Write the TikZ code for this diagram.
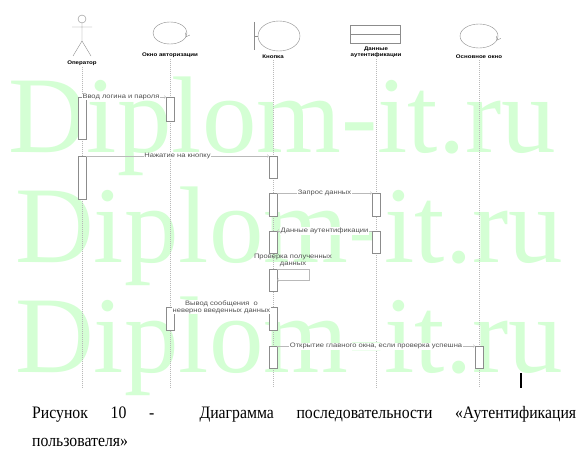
\documentclass[tikz,border=0pt]{standalone}
\usepackage{fontspec}
\setmainfont{Liberation Serif}
\newfontfamily\umlfont[FakeStretch=1.18]{Liberation Sans}
\newfontfamily\capfont[FakeStretch=0.9]{Liberation Serif}
\usetikzlibrary{positioning}

\definecolor{wmgreen}{RGB}{212,255,212}
\definecolor{umlline}{RGB}{185,185,185}
\definecolor{umlbox}{RGB}{140,140,140}
\definecolor{umltext}{RGB}{80,80,80}

\tikzstyle{watermark}=[font=\fontsize{109}{109}\selectfont, text=wmgreen, anchor=base west, inner sep=0pt]
\tikzstyle{header}=[font=\umlfont\bfseries\fontsize{5.2}{6.2}\selectfont, align=center, inner sep=1pt]
\tikzstyle{symbol}=[draw=umlbox, thin]
\tikzstyle{lifeline}=[draw=umlline, dash pattern=on 1pt off 1pt, thin]
\tikzstyle{actbox}=[draw=umlbox, fill=white, thin, minimum width=8pt, inner sep=0pt, anchor=north]
\tikzstyle{msg}=[->, draw=umlline, thin]
\tikzstyle{msgtext}=[font=\umlfont\fontsize{6.4}{7.2}\selectfont, text=umltext, fill=white, inner sep=0.6pt, align=center]
\tikzstyle{caption}=[font=\capfont\fontsize{17.5}{29}\selectfont, anchor=base west, inner sep=0pt]

\begin{document}
\begin{tikzpicture}[x=1pt, y=-1pt]
  \useasboundingbox (0,0) rectangle (588,460);
  \fill[white] (0,0) rectangle (588,460);
  \clip (0,0) rectangle (588,460);

  % watermark
  \node[watermark] (wm1) at (8,152) {Diplom-it.ru};
  \node[watermark] (wm2) at (15,262) {Diplom-it.ru};
  \node[watermark] (wm3) at (15,372) {Diplom-it.ru};

  % heads
  \draw[symbol] (82,19) circle (4pt);
  \draw[symbol] (82,23) -- (82,41) (72,27) -- (92,27) (73,56) -- (82,41) -- (91,56);
  \node[header] (operlbl) at (82,63) {Оператор};

  \draw[symbol] (170,33) ellipse (17pt and 11pt);
  \draw[symbol] (185.5,32.6) -- (186,36.8) -- (189.9,35);
  \node[header] (authlbl) at (170,55) {Окно авторизации};

  \draw[symbol] (254,22) -- (254,50) (254,36) -- (258,36);
  \draw[symbol] (279,36) ellipse (21pt and 15pt);
  \node[header] (btnlbl) at (273,57) {Кнопка};

  \draw[symbol] (350,25) rectangle (400,43) (350,34) -- (400,34);
  \node[header] (datalbl) at (376,52.5) {Данные\\аутентификации};

  \draw[symbol] (479,36) ellipse (19pt and 12pt);
  \draw[symbol] (496.5,35.9) -- (496.9,40.1) -- (500.9,38.4);
  \node[header] (mainlbl) at (479,57) {Основное окно};

  % lifelines
  \foreach \l/\x in {oper/82, auth/170, btn/273, data/376, main/479} {
    \coordinate (\l end) at (\x,388);
    \draw[lifeline] (\l lbl.south) -- (\l end);
  }

  % activations
  \foreach \n/\x/\t/\b in {o1/82/97/139, a1/170/97/121, o2/82/156/199, b2/273/156/178,
      b3/273/193/216, d3/376/193/216, b4/273/231/253, d4/376/231/253, b5/273/269/291,
      a6/170/307/330, b6/273/307/330, b7/273/346/368, m7/479/346/368}
    \node[actbox, minimum height={\b pt-\t pt}] (\n) at (\x,\t) {};

  % messages
  \draw[msg] (o1.north east) -- (a1.north west) node[msgtext, midway, xshift=-5pt] {Ввод логина и пароля};
  \draw[msg] (o2.north east) -- (b2.north west) node[msgtext, midway] {Нажатие на кнопку};
  \draw[msg] (b3.north east) -- (d3.north west) node[msgtext, midway] {Запрос данных};
  \draw[msg] (d4.north west) -- (b4.north east) node[msgtext, midway] {Данные аутентификации};
  \draw[msg] (b5.north east) -- ++(32,0) -- ++(0,11) -- ++(-32,0);
  \node[msgtext, fill=none, above=1pt of b5, xshift=20pt] (chk) {Проверка полученных\\данных};
  \draw[msg] (b6.north west) -- (a6.north east) node[msgtext, midway] {Вывод сообщения~ о\\неверно введенных данных};
  \draw[msg] (b7.north east) -- (m7.north west) node[msgtext, midway] {Открытие главного окна, если проверка успешна};

  \draw[line width=1.2pt] (521,373) -- (521,388);

  % caption
  \node[caption] (cap1) at (32,418) {\hbox to 544pt{Рисунок\hfill 10\hfill -\hfill\hfill Диаграмма\hfill последовательности\hfill «Аутентификация}};
  \node[caption] (cap2) at (32,446) {пользователя»};
\end{tikzpicture}
\end{document}
